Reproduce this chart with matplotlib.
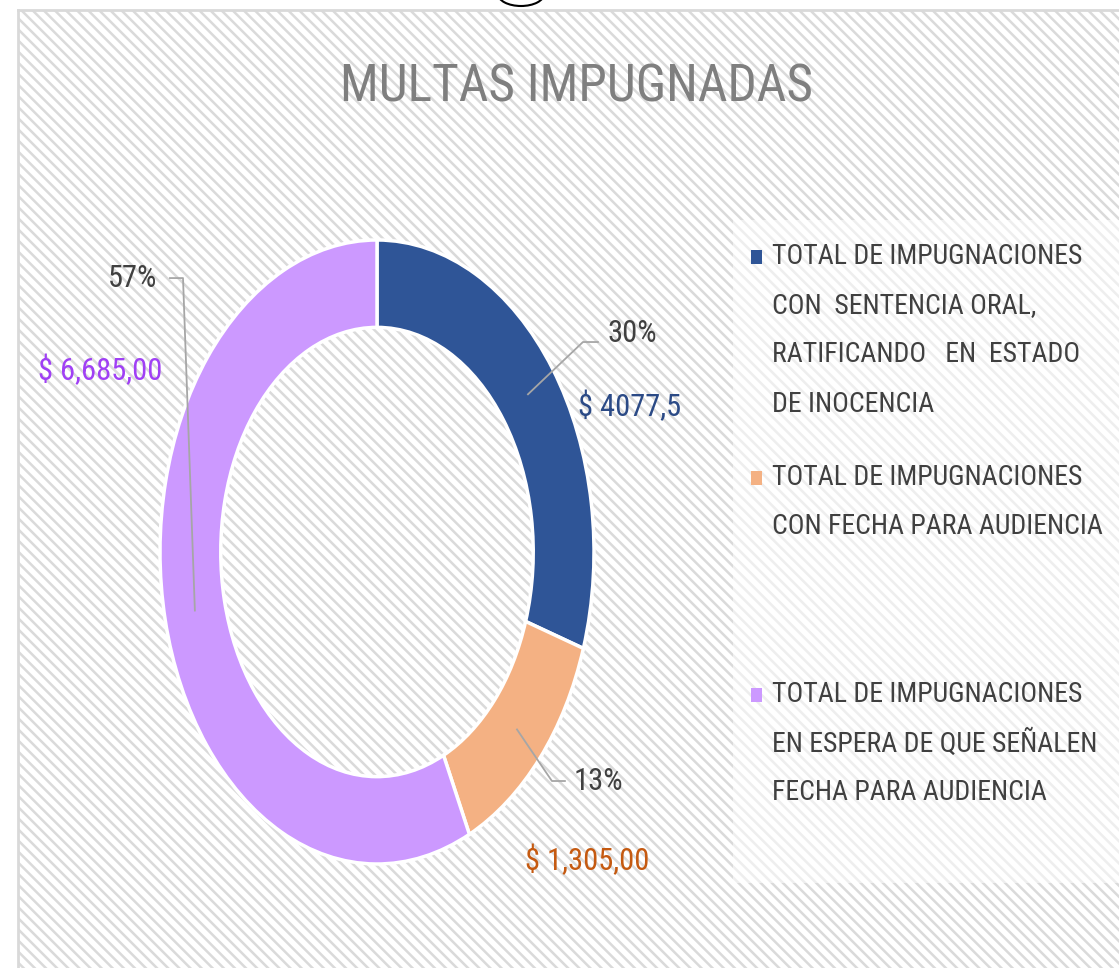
import matplotlib
matplotlib.use("Agg")
import numpy as np
import matplotlib.pyplot as plt
from matplotlib import font_manager as fm
from matplotlib.patches import Rectangle, Arc

# datos del grafico
categorias = [
    ["TOTAL DE IMPUGNACIONES", "CON  SENTENCIA ORAL,", "RATIFICANDO   EN  ESTADO", "DE INOCENCIA"],
    ["TOTAL DE IMPUGNACIONES", "CON FECHA PARA AUDIENCIA"],
    ["TOTAL DE IMPUGNACIONES", "EN ESPERA DE QUE SEÑALEN", "FECHA PARA AUDIENCIA"],
]
porcentajes = [30, 13, 57]
montos = ["$ 4077,5", "$ 1,305,00", "$ 6,685,00"]
titulo = "MULTAS IMPUGNADAS"

colores = ["#2F5597", "#F4B183", "#CC99FF"]
colores_monto = ["#2B4A86", "#C55A11", "#A040F5"]

W, H = 1119, 968

def fx(x):
    return x / W

def fy(y):
    return 1 - y / H

# buscar una fuente angosta
nombres = {f.name for f in fm.fontManager.ttflist}
familia, estiramiento, escala = "Liberation Sans", "normal", 0.8
for n in ["Liberation Sans Narrow", "Roboto Condensed", "Open Sans Condensed", "DejaVu Sans Condensed"]:
    if n in nombres:
        familia, escala = n, 1.0
        break
else:
    if any(f.name == "DejaVu Sans" and f.stretch == "condensed" for f in fm.fontManager.ttflist):
        familia, estiramiento, escala = "DejaVu Sans", "condensed", 0.85

plt.rcParams["font.family"] = [familia, "DejaVu Sans"]
plt.rcParams["hatch.color"] = "#DADADA"
plt.rcParams["hatch.linewidth"] = 1.8

fig = plt.figure(figsize=(W / 100, H / 100), dpi=100)
fig.patch.set_facecolor("white")

# fondo rayado
bg = fig.add_axes([fx(18), 0, 1 - fx(18), fy(10)], zorder=0)
bg.set_xlim(0, 1)
bg.set_ylim(0, 1)
bg.add_patch(Rectangle((0, 0), 1, 1, facecolor="white", edgecolor="#DADADA",
                       hatch="\\\\\\", lw=0))
bg.set_xticks([])
bg.set_yticks([])
for s in ["right", "bottom"]:
    bg.spines[s].set_visible(False)
for s in ["left", "top"]:
    bg.spines[s].set_color("#D9D9D9")
    bg.spines[s].set_linewidth(2)

# caja de la leyenda
fig.add_artist(Rectangle((fx(733), fy(883)), 1 - fx(733), fy(220) - fy(883),
                         transform=fig.transFigure, facecolor="white", alpha=0.55,
                         edgecolor="none", zorder=1))

# asa arriba
fig.add_artist(Arc((fx(521), fy(-6)), fx(46), 24 / H, theta1=180, theta2=360,
                   transform=fig.transFigure, color="black", lw=1.5, zorder=3))

# dona
ax = fig.add_axes([fx(160), fy(864), fx(594) - fx(160), fy(240) - fy(864)], zorder=2)
wedges, _ = ax.pie(porcentajes, colors=colores, startangle=90, counterclock=False,
                   wedgeprops=dict(width=0.28, edgecolor="white", linewidth=2.5))
ax.set_aspect("auto")
ax.set_xlim(-1, 1)
ax.set_ylim(-1, 1)
ax.axis("off")

# lineas guia y etiquetas
codos = [(0.949, 0.673, 1.018), (0.806, -0.734, 0.866), (-0.894, 0.878, -0.954)]
pos_pct = [(1.06, 0.70, "left"), (0.908, -0.734, "left"), (-1.014, 0.878, "right")]
pos_monto = [(0.926, 0.465, "left"), (0.682, -0.987, "left"), (-1.562, 0.583, "left")]

fs_lbl = 22 * escala
for i, w in enumerate(wedges):
    ang = np.deg2rad((w.theta1 + w.theta2) / 2)
    x0, y0 = 0.86 * np.cos(ang), 0.86 * np.sin(ang)
    cx, cy, ex = codos[i]
    ax.plot([x0, cx, ex], [y0, cy, cy], color="#A6A6A6", lw=1.3, clip_on=False, zorder=5)
    px, py, ha = pos_pct[i]
    ax.text(px, py, f"{porcentajes[i]}%", ha=ha, va="center", fontsize=fs_lbl,
            color="#404040", fontstretch=estiramiento)
    mx, my, mha = pos_monto[i]
    ax.text(mx, my, montos[i], ha=mha, va="center", fontsize=fs_lbl,
            color=colores_monto[i], fontstretch=estiramiento)

# titulo
fig.text(fx(576), fy(88), titulo, ha="center", va="center", fontsize=37 * escala,
         color="#7F7F7F", fontstretch=estiramiento, zorder=4)

# leyenda manual
inicio = [257, 478, 695]
paso = 49
for i, lineas in enumerate(categorias):
    y0 = inicio[i]
    fig.add_artist(Rectangle((fx(751), fy(y0 + 7)), fx(11), 14 / H, transform=fig.transFigure,
                             facecolor=colores[i], edgecolor="none", zorder=4))
    for j, t in enumerate(lineas):
        fig.text(fx(772), fy(y0 + j * paso), t, ha="left", va="center",
                 fontsize=20 * escala, color="#404040", fontstretch=estiramiento, zorder=4)

fig.savefig("out.png", dpi=100)
